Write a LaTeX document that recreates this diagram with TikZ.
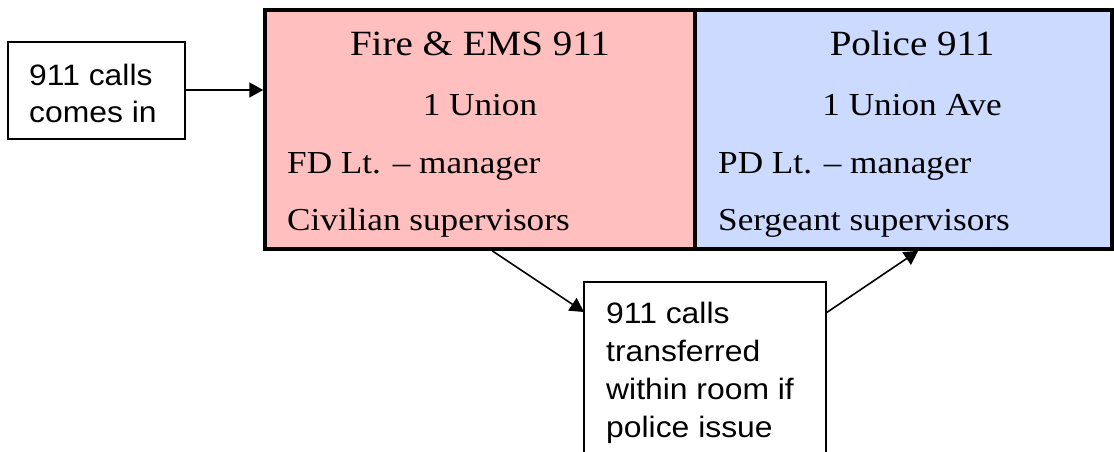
\documentclass[tikz,border=0pt]{standalone}
\usepackage{fontspec}
\setmainfont{Liberation Serif}[FakeStretch=1.1]
\newfontfamily\boxsans{Liberation Sans}[FakeStretch=1.08]
\usetikzlibrary{arrows.meta,calc}
\definecolor{firefill}{RGB}{255,191,191}
\definecolor{policefill}{RGB}{204,218,255}
\begin{document}
\begin{tikzpicture}[x=1pt,y=-1pt,
  room/.style={draw, line width=3.5pt, inner sep=0pt, outer sep=1.75pt},
  note/.style={draw, line width=1.5pt, inner sep=0pt, outer sep=0pt, fill=white},
  title/.style={anchor=base, inner sep=0pt, font=\fontsize{35.5}{42}\selectfont},
  body/.style={inner sep=0pt, font=\fontsize{32}{38}\selectfont},
  sans/.style={anchor=base west, inner sep=0pt, font=\boxsans\fontsize{29.5}{37}\selectfont},
  link/.style={line width=1.6pt, -{Triangle[length=14pt,width=15pt]}}]
\useasboundingbox (0,0) rectangle (1114,452);

% the shared dispatch room
\node[room, fill=firefill, minimum width=430pt, minimum height=239pt] (fire) at (480,129.5) {};
\node[room, fill=policefill, minimum width=417pt, minimum height=239pt] (police) at (903.5,129.5) {};

\node[title] (fireT) at (480,56) {Fire \& EMS 911};
\node[body, anchor=base] (fireA) at (480,115) {1 Union};
\node[body, anchor=base west] (fireM) at (287,173) {FD Lt. – manager};
\node[body, anchor=base west] (fireS) at (287,230) {Civilian supervisors};

\node[title] (polT) at (912,56) {Police 911};
\node[body, anchor=base] (polA) at (912,115) {1 Union Ave};
\node[body, anchor=base west] (polM) at (718,173) {PD Lt. – manager};
\node[body, anchor=base west] (polS) at (718,230) {Sergeant supervisors};

% incoming calls
\node[note, minimum width=177pt, minimum height=97pt] (in) at (96.5,90.5) {};
\node[sans] (in1) at (29,85) {911 calls};
\node[sans] (in2) at (29,122) {comes in};

% transfer box
\node[note, minimum width=242pt, minimum height=200pt] (xfer) at (705,382) {};
\node[sans] (x1) at (606,323) {911 calls};
\node[sans] (x2) at (606,361) {transferred};
\node[sans] (x3) at (606,399) {within room if};
\node[sans] (x4) at (606,437) {police issue};

% connectors
\draw[link] (in.east |- 0,90) -- (fire.west |- 0,90);
\draw[link] ($(fire.south west)!0.528!(fire.south east)$) -- ($(xfer.north west)+(0,30)$);
\draw[link] ($(xfer.north east)+(0,31)$) -- ($(police.south west)!0.535!(police.south east)$);
\end{tikzpicture}
\end{document}
